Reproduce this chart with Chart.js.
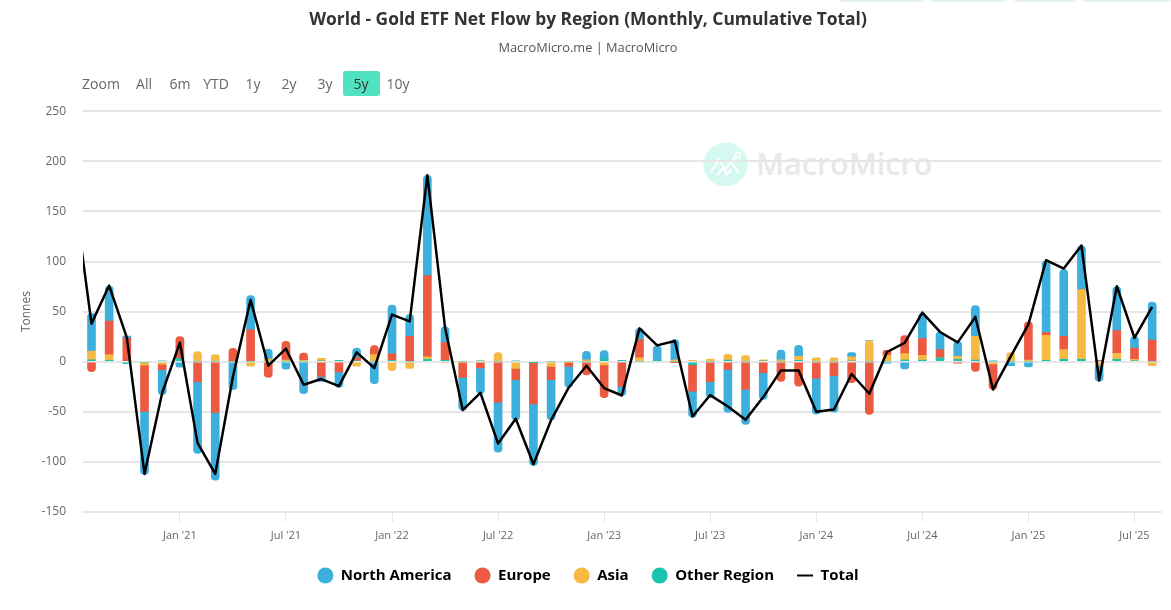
<!DOCTYPE html>
<html>
<head>
<meta charset="utf-8">
<title>World - Gold ETF Net Flow by Region</title>
<script src="https://cdn.jsdelivr.net/npm/chart.js@4"></script>
<style>
    html, body { margin: 0; padding: 0; background: #fff; }
    body { width: 1171px; height: 610px; overflow: hidden; position: relative; font-family: "Open Sans", sans-serif; }
    #chartCanvas { position: absolute; left: 0; top: 0; }
    .tab { position: absolute; top: 0; height: 2px; background: #e6f5f1; border-radius: 0 0 4px 4px; }
    .range { position: absolute; top: 74px; height: 20px; line-height: 20px; font-size: 14px; color: #666; transform: translateX(-50%); white-space: nowrap; }
    .range.active { color: #333; }
    #activeRange { position: absolute; left: 343px; top: 71px; width: 37px; height: 25px; background: #4fe3c1; border-radius: 3px; }
    #brand { position: absolute; left: 703px; top: 142px; }
</style>
</head>
<body>

<div class="tab" style="left:839px;width:84px"></div>
<div class="tab" style="left:930px;width:77px"></div>
<div class="tab" style="left:1014px;width:61px"></div>
<div class="tab" style="left:1082px;width:89px"></div>

<svg id="brand" width="235" height="46" viewBox="0 0 235 46">
    <circle cx="22.5" cy="22.5" r="22" fill="#d5f8f0"/>
    <path d="M8 30 L16 18 L22 27 L28 20 L36 31 M14 33 L20 26 L24 32 L29 27 M28 20 L34 14" fill="none" stroke="#fff" stroke-width="2.2"/>
    <circle cx="35" cy="13" r="2.6" fill="none" stroke="#fff" stroke-width="1.6"/>
    <text x="53" y="33" font-family="Open Sans" font-weight="600" font-size="30.5" fill="#e6e8ea">MacroMicro</text>
</svg>

<canvas id="chartCanvas" width="1171" height="610"></canvas>

<div id="activeRange"></div>
<div id="rangeButtons"></div>

<script>
// months from Jul 2020, the first one sits left of the plot and only feeds the line
const months = [
    "Jul '20", "Aug '20", "Sep '20", "Oct '20", "Nov '20", "Dec '20",
    "Jan '21", "Feb '21", "Mar '21", "Apr '21", "May '21", "Jun '21",
    "Jul '21", "Aug '21", "Sep '21", "Oct '21", "Nov '21", "Dec '21",
    "Jan '22", "Feb '22", "Mar '22", "Apr '22", "May '22", "Jun '22",
    "Jul '22", "Aug '22", "Sep '22", "Oct '22", "Nov '22", "Dec '22",
    "Jan '23", "Feb '23", "Mar '23", "Apr '23", "May '23", "Jun '23",
    "Jul '23", "Aug '23", "Sep '23", "Oct '23", "Nov '23", "Dec '23",
    "Jan '24", "Feb '24", "Mar '24", "Apr '24", "May '24", "Jun '24",
    "Jul '24", "Aug '24", "Sep '24", "Oct '24", "Nov '24", "Dec '24",
    "Jan '25", "Feb '25", "Mar '25", "Apr '25", "May '25", "Jun '25",
    "Jul '25", "Aug '25"
];

const northAmerica = [
    null, 37.7, 35, 2, -63, -25,
    -5.5, -71.5, -67.5, -28, 34.3, 10,
    -7.5, -32, -5, -15.3, 9.5, -22,
    48.7, 21.7, 100, 15.7, -32.7, -25.3,
    -50, -40, -61.3, -40, -20.7, 8.3,
    8.7, -9.7, 11.3, 14.3, 20, -26,
    -16, -43, -35, -26.7, 9.7, 11,
    -36, -36.3, 4, 0, -1.5, -7.3,
    25, 17.7, 15, 30.7, 1, -4,
    -5.3, 72, 66.7, 43.7, -16, 43.7,
    11.7, 37.7
];

const europe = [
    null, -10, 33.5, 23.5, -46, -5.5,
    21.5, -20, -50.7, 13.3, 31.7, -15.7,
    18.7, 7, -14.7, -10.3, 3, 9,
    6.3, 25.3, 81, 17.7, -14.7, -6.3,
    -40.3, -11.3, -41.7, -13.3, -4.3, -13.3,
    -32.7, -24.3, 18, 0, -0.5, -26.3,
    -20, -7.7, -27.7, -11, -19.7, -24.3,
    -16.3, -14, -21, -52.7, 5, 18,
    16.7, 8, -1.5, -9.7, -25.3, 0,
    38, 2.7, 13.3, 0, 1.5, 22.7,
    11, 21.7
];

const asia = [
    null, 8.5, 5.5, 0, -2.5, -2.5,
    0, 10, 7, 0, -4.5, 2.7,
    1.7, 1.5, 2.3, 0, -4.5, 7,
    -9, -6.7, 2.7, -1, -1, 0,
    9, -6.7, 0, -4.7, -0.5, 2,
    -3.3, 0, 4, 0, 2, 1.5,
    2.7, 5.7, 6, 1, 2, 4,
    4, 4, 4, 21, 6.3, 6.3,
    4.7, 0, 3, 23.7, -2.3, 8.7,
    1.7, 25, 9.7, 69.7, -3.5, 6,
    1.5, -4
];

const otherRegion = [
    null, 2, 1.5, -2, -1, 1,
    3.5, 0, 0, 0, 0, 0,
    0, 0, 1, 1.5, 1, 0,
    1.5, 0, 2.3, 1.5, 0, 1,
    0, 1, -0.5, 0, 0, 0,
    2.3, 1.5, 0, 1.5, 0, -3,
    0, 1.7, 0, 1, 0, 1.3,
    0, 0, 1, 0, 0, 1.7,
    1.7, 4, 2.3, 1.7, 0, 0,
    0, 1.3, 2.3, 2.3, 0, 2.3,
    1, 0
];

const total = [
    171, 38, 76, 24, -112, -31,
    19, -81, -112, -15, 61.7, -4,
    13, -23, -17.3, -24.3, 9.3, -6.3,
    47, 40.3, 186, 34, -48.3, -31,
    -81.7, -57, -102.3, -58.3, -25.7, -4,
    -26.3, -33.7, 33.3, 16.3, 20.7, -54.7,
    -33.3, -44.7, -58, -35.3, -8.7, -8.7,
    -50, -47.7, -12.3, -32, 9.7, 18.7,
    49, 29.7, 19.3, 44.7, -27.7, 5.3,
    37.3, 101.3, 93, 116, -18.7, 75.3,
    23.7, 54.7
];

const xTickMonths = [
    "Jan '21", "Jul '21", "Jan '22", "Jul '22", "Jan '23", "Jul '23",
    "Jan '24", "Jul '24", "Jan '25", "Jul '25"
];

const rangeLabels = ["Zoom", "All", "6m", "YTD", "1y", "2y", "3y", "5y", "10y"];
const rangeCenters = [101, 144, 180, 216, 253, 289, 325, 361, 398];

rangeLabels.forEach((label, i) => {

    const el = document.createElement("div");

    el.className = label === "5y" ? "range active" : "range";
    el.style.left = rangeCenters[i] + "px";
    el.textContent = label;

    document.getElementById("rangeButtons").appendChild(el);

});

function toPoints(values) {

    return values.map((y, x) => ({ x, y }));

}

function barSeries(label, values, color) {

    return {
        type: "bar",
        label,
        data: toPoints(values),
        backgroundColor: color,
        borderWidth: 0,
        borderRadius: 4,
        borderSkipped: "middle",
        barThickness: 8,
        pointStyle: "circle",
        order: 1
    };

}

// stacks grow from the axis in dataset order, the legend lists them the other way round
const legendOrder = ["North America", "Europe", "Asia", "Other Region", "Total"];

new Chart(document.getElementById("chartCanvas").getContext("2d"), {

    data: {

        datasets: [

            barSeries("Other Region", otherRegion, "#1ac2b0"),
            barSeries("Asia", asia, "#f6ba42"),
            barSeries("Europe", europe, "#ec5a41"),
            barSeries("North America", northAmerica, "#3cafdd"),

            {
                type: "line",
                label: "Total",
                data: toPoints(total),
                borderColor: "#000",
                backgroundColor: "#000",
                borderWidth: 2.5,
                borderJoinStyle: "round",
                pointRadius: 0,
                pointStyle: "line",
                pointBorderColor: "#000",
                pointBorderWidth: 2,
                tension: 0,
                order: 0
            }

        ]

    },

    options: {

        responsive: false,
        animation: false,

        layout: {
            padding: { left: 15, right: 10, bottom: 17 }
        },

        plugins: {

            title: {
                display: true,
                text: "World - Gold ETF Net Flow by Region (Monthly, Cumulative Total)",
                color: "#333",
                font: { family: "Open Sans", size: 17.4, weight: "bold" },
                padding: { top: 10, bottom: 10 }
            },

            subtitle: {
                display: true,
                text: "MacroMicro.me | MacroMicro",
                color: "#555",
                font: { family: "Open Sans", size: 12.8 },
                padding: { bottom: 55 }
            },

            legend: {
                position: "bottom",
                labels: {
                    usePointStyle: true,
                    pointStyleWidth: 16,
                    boxHeight: 11.3,
                    padding: 23,
                    color: "#000",
                    font: { family: "Open Sans", size: 15, weight: "bold" },
                    sort: (a, b) => legendOrder.indexOf(a.text) - legendOrder.indexOf(b.text)
                }
            },

            tooltip: { enabled: false }

        },

        scales: {

            x: {
                type: "linear",
                stacked: true,
                offset: false,
                min: 0.52,
                max: 61.5,
                afterBuildTicks: scale => {
                    scale.ticks = xTickMonths.map(m => ({ value: months.indexOf(m) }));
                },
                afterFit: scale => {
                    scale.height = 33;
                },
                ticks: {
                    autoSkip: false,
                    maxRotation: 0,
                    color: "#666",
                    padding: 7,
                    font: { family: "Open Sans", size: 11 },
                    callback: value => months[value]
                },
                grid: {
                    offset: false,
                    drawOnChartArea: false,
                    color: "#e6e6e6",
                    tickLength: 10
                },
                border: { color: "#e6e6e6", width: 2 }
            },

            y: {
                stacked: true,
                min: -150,
                max: 250,
                afterFit: scale => {
                    scale.width = 68;
                },
                ticks: {
                    stepSize: 50,
                    color: "#666",
                    font: { family: "Open Sans", size: 12 },
                    padding: 17
                },
                title: {
                    display: true,
                    text: "Tonnes",
                    color: "#666",
                    font: { family: "Open Sans", size: 12 }
                },
                grid: {
                    color: "#e6e6e6",
                    lineWidth: 2,
                    drawTicks: false
                },
                border: { display: false }
            }

        }

    }

});
</script>
</body>
</html>
